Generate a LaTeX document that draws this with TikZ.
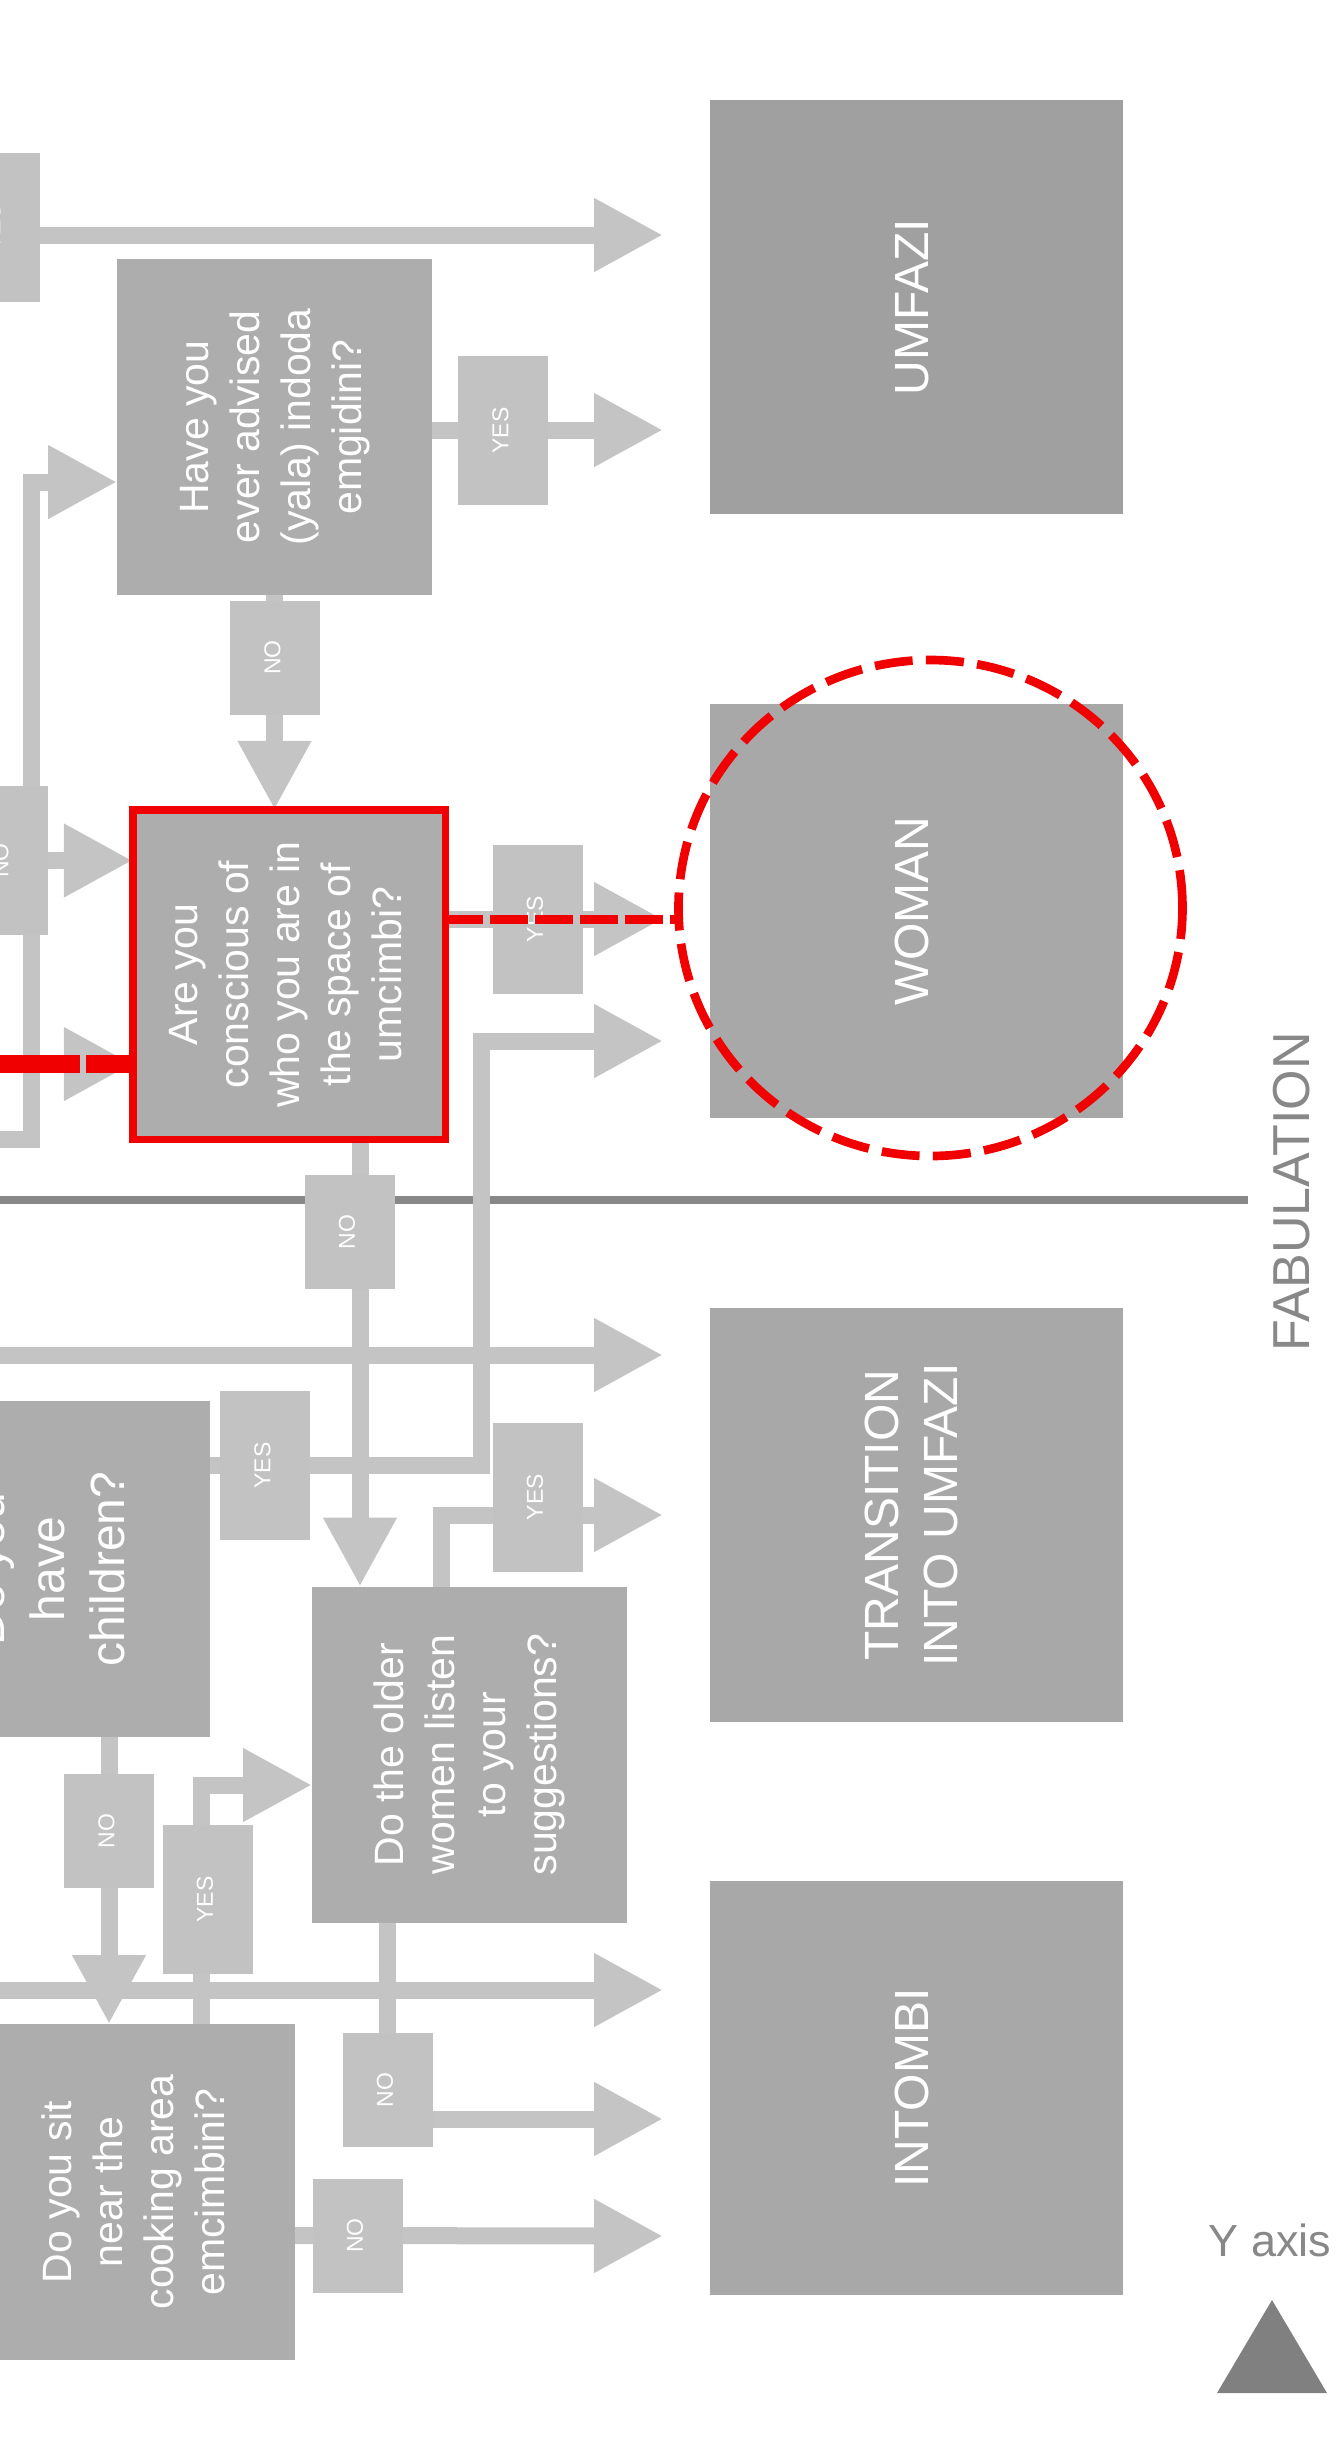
\documentclass[tikz,border=0pt]{standalone}
\usepackage{fontspec}
\setmainfont{Liberation Sans}
\usepackage{graphicx}
\usepackage{tikz}
\usetikzlibrary{arrows.meta,positioning,shapes.geometric,backgrounds}
\definecolor{qgray}{RGB}{173,173,173}
\definecolor{lblgray}{RGB}{194,194,194}
\definecolor{arrgray}{RGB}{196,196,196}
\definecolor{endgray}{RGB}{168,168,168}
\definecolor{umfgray}{RGB}{160,160,160}
\definecolor{sepgray}{RGB}{136,136,136}
\definecolor{trigray}{RGB}{128,128,128}
\definecolor{qred}{RGB}{240,0,0}
\newcommand{\vtext}[1]{\rotatebox{90}{\begin{tabular}{@{}c@{}}#1\end{tabular}}}

\begin{document}
\begin{tikzpicture}[x=0.3pt,y=-0.3pt,
  qbox/.style={fill=qgray,minimum width=94.5pt,minimum height=100.8pt,
               inner sep=0pt,outer sep=0pt,text=white,
               font=\fontsize{12.3}{15.3}\selectfont},
  redq/.style={qbox,draw=qred,line width=2.25pt,
               minimum width=93.75pt,minimum height=98.85pt},
  lbl/.style={fill=lblgray,minimum width=27pt,minimum height=34.2pt,
              inner sep=0pt,outer sep=0pt,text=white,
              font=\fontsize{6.9}{8}\selectfont},
  ylbl/.style={lbl,minimum height=44.7pt},
  endbox/.style={fill=endgray,minimum width=123.9pt,minimum height=124.2pt,
                 inner sep=0pt,outer sep=0pt,text=white,
                 font=\fontsize{14.4}{17.7}\selectfont},
  halo/.style={ellipse,draw=qred,line width=2.6pt,
               dash pattern=on 11.4pt off 4pt,minimum width=151.2pt,
               minimum height=148.8pt,inner sep=0pt,outer sep=0pt},
  arr/.style={draw=arrgray,line width=5.1pt,
              -{Triangle[length=20.7pt,width=20.7pt]}},
  redln/.style={draw=qred,line width=5.4pt,dash pattern=on 30pt off 1.8pt},
  reddash/.style={draw=qred,line width=2.7pt,dash pattern=on 11.4pt off 2.1pt},
  divider/.style={draw=sepgray,line width=2.4pt},
  node distance=57pt
]
\useasboundingbox (0,0) rectangle (1337,2455);

% Questions
\node[qbox] (advise) at (274.5,427) {\vtext{Have you\\ever advised\\(yala) indoda\\emgidini?}};
\node[redq] (conscious) at (289,974.5) {\vtext{Are you\\conscious of\\who you are in\\the space of\\umcimbi?}};
\node[qbox,font=\fontsize{14.4}{18}\selectfont] (children) at (52.5,1569) {\vtext{Do you\\have\\children?}};
\node[qbox] (older) at (469.5,1754.5) {\vtext{Do the older\\women listen\\to your\\suggestions?}};
\node[qbox] (sit) at (137.5,2192) {\vtext{Do you sit\\near the\\cooking area\\emcimbini?}};

% Outcomes
\node[endbox,fill=umfgray] (umfazi) at (916.5,307) {\vtext{UMFAZI}};
\node[endbox,below=of umfazi] (woman) {\vtext{WOMAN}};
\node[endbox,below=of woman] (trans) {\vtext{TRANSITION\\INTO UMFAZI}};
\node[endbox,below=47.7pt of trans] (intombi) {\vtext{INTOMBI}};
\node[halo] (ring) at (930.5,908) {};

% Yes / no tags
\node[ylbl] (yes0) at (-5,227.5) {\vtext{YES}};
\node[ylbl] (yesA) at (503,430.5) {\vtext{YES}};
\node[lbl] (noA) at (275,657.5) {\vtext{NO}};
\node[ylbl] (no0) at (3,860.5) {\vtext{NO}};
\node[ylbl] (yesC) at (537.5,919) {\vtext{YES}};
\node[lbl] (noC) at (349.5,1232) {\vtext{NO}};
\node[ylbl] (yesK) at (265,1465.5) {\vtext{YES}};
\node[ylbl] (yesO) at (537.5,1497) {\vtext{YES}};
\node[lbl] (noK) at (109,1831) {\vtext{NO}};
\node[ylbl] (yesS) at (207.5,1899.5) {\vtext{YES}};
\node[lbl] (noO) at (387.5,2090) {\vtext{NO}};
\node[lbl] (noS) at (357.5,2235.5) {\vtext{NO}};

% Arrow ends and bends
\coordinate (tU1) at (663,235);
\coordinate (tU2) at (663,430);
\coordinate (tW1) at (663,919);
\coordinate (tW2) at (663,1041);
\coordinate (tT1) at (663,1355);
\coordinate (tT2) at (663,1515);
\coordinate (tI1) at (663,1990);
\coordinate (tI2) at (663,2119);
\coordinate (tI3) at (663,2236);
\coordinate (lA) at (-20,1139);
\coordinate (lB) at (-20,1064);
\coordinate (lC) at (-20,1355);
\coordinate (lD) at (-20,1990);
\coordinate (jA) at (31,482);
\coordinate (jB) at (481,1041);
\coordinate (jC) at (360,1232);
\coordinate (jD) at (201,1785);
\coordinate (jE) at (441,1515);
\coordinate (sepL) at (0,1200);
\coordinate (sepR) at (1248,1200);

% Arrows
\begin{scope}[on background layer]
\draw[divider] (sepL) -- (sepR);
\draw[arr] (yes0.east |- tU1) -- (tU1);
\draw[arr] (advise.east |- tU2) -- (tU2);
\draw[arr] (advise.south) -- (advise.south |- conscious.north);
\draw[arr] (lA) -| (jA) -- (advise.west |- jA);
\draw[arr] (no0.east) -- (conscious.west |- no0);
\draw[arr] (lB) -- (conscious.west |- lB);
\draw[arr] (conscious.east |- tW1) -- (tW1);
\draw[arr] (children.east |- yesK) -| (jB) -- (tW2);
\draw[arr] (lC) -- (tT1);
\draw[arr] (conscious.south -| jC) -- (older.north -| jC);
\draw[arr] (older.north -| jE) |- (tT2);
\draw[arr] (children.south -| noK) -- (sit.north -| noK);
\draw[arr] (sit.north -| jD) |- (older.west |- jD);
\draw[arr] (lD) -- (tI1);
\draw[arr] (older.south -| noO) |- (tI2);
\draw[arr] (sit.east |- noS) -- (tI3);
\end{scope}

% Red path
\draw[redln] (lB) -- (conscious.west |- lB);
\draw[reddash] (conscious.east |- tW1) -- (ring.west |- tW1);

% Axis
\node[font=\fontsize{15.6}{18}\selectfont,text=sepgray,rotate=90,inner sep=0pt] (fab) at (1292,1192) {FABULATION};
\node[font=\fontsize{13.5}{16}\selectfont,text=sepgray,inner sep=0pt] (yaxis) at (1270,2240) {Y axis};
\fill[trigray] (1217,2393) -- (1327,2393) -- (1272,2300) -- cycle;

\end{tikzpicture}
\end{document}
